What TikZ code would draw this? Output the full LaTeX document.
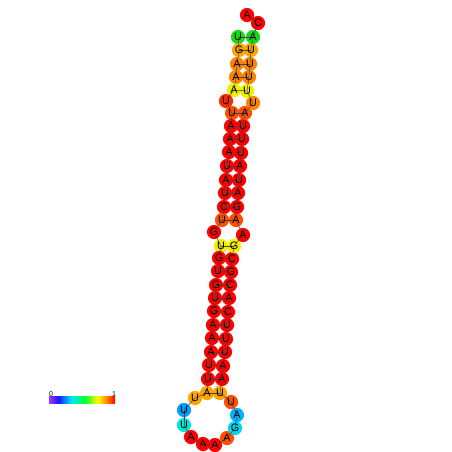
\documentclass[tikz,border=0pt]{standalone}
\usepackage{fontspec}
\setmainfont{Liberation Sans}
\definecolor{nRed}{RGB}{255,0,0}
\definecolor{nRO}{RGB}{255,40,0}
\definecolor{nOR}{RGB}{255,80,0}
\definecolor{nOr}{RGB}{255,130,0}
\definecolor{nOY}{RGB}{255,165,0}
\definecolor{nYel}{RGB}{240,240,0}
\definecolor{nGrn}{RGB}{20,220,20}
\definecolor{nBlu}{RGB}{0,160,255}
\definecolor{nSky}{RGB}{0,180,255}
\definecolor{nCyn}{RGB}{0,230,215}
\definecolor{nCy2}{RGB}{0,215,240}
\definecolor{bbcol}{RGB}{70,70,70}
\pgfdeclarehorizontalshading{cbar}{100bp}{rgb(0bp)=(0.65,0.2,1); rgb(25bp)=(0.65,0.2,1); rgb(32bp)=(0.1,0.1,1); rgb(42bp)=(0,0.9,1); rgb(52bp)=(0,1,0.2); rgb(62bp)=(1,1,0); rgb(69bp)=(1,0.5,0); rgb(75bp)=(1,0,0); rgb(100bp)=(1,0,0)}
\begin{document}
\begin{tikzpicture}[x=1pt,y=-1pt]
\tikzset{
  ntc/.style={circle, minimum size=14.2pt, inner sep=0pt, draw=none},
  ntl/.style={inner sep=0pt, font=\fontsize{10.8}{10.8}\selectfont},
  bb/.style={draw=bbcol, line width=0.5pt},
  cbl/.style={inner sep=0pt, anchor=south, font=\fontsize{7}{7}\selectfont}
}
\useasboundingbox (0,0) rectangle (452,452);
\foreach \i/\x/\y/\c in {1/238/37/nGrn, 2/239/50/nOY, 3/237/64/nOr, 4/236/77/nOr, 5/234/90/nYel,
  6/226/101/nRO, 7/232/113/nOR, 8/231/126/nRed, 9/230/139/nRed, 10/229/152/nRed,
  11/227/166/nRed, 12/226/180/nRed, 13/225/193/nRed, 14/224/207/nRed, 15/222/220/nOR,
  16/214/232/nRed, 17/221/246/nYel, 18/219/258/nRed, 19/218/271/nRed, 20/216/285/nRed,
  21/215/298/nRed, 22/214/311/nRed, 23/213/325/nRed, 24/212/338/nRed, 25/211/352/nRed,
  26/209/365/nRed, 27/208/379/nRed, 28/207/393/nOY, 29/195/398/nOY, 30/184/410/nBlu,
  31/184/425/nCyn, 32/191/437/nRed, 33/203/444/nRed, 34/215/445/nRed, 35/227/438/nOR,
  36/235/428/nCy2, 37/237/415/nSky, 38/231/402/nOR, 39/220/393/nOY, 40/222/379/nRed,
  41/223/366/nRed, 42/225/352/nRed, 43/226/339/nRed, 44/227/325/nRed, 45/228/312/nRed,
  46/229/298/nRed, 47/230/285/nRed, 48/231/272/nRed, 49/232/259/nRed, 50/234/246/nYel,
  51/243/235/nRed, 52/236/220/nOR, 53/237/207/nRed, 54/238/193/nRed, 55/239/180/nRed,
  56/240/166/nRed, 57/241/153/nRed, 58/242/139/nRed, 59/243/126/nRed, 60/245/113/nOR,
  61/253/103/nOr, 62/247/91/nYel, 63/249/77/nOr, 64/250/64/nOr, 65/251/50/nOY,
  66/253/37/nGrn, 67/258/23/nRed, 68/247/15/nRed}
  {\node[ntc, fill=\c] (n\i) at (\x,\y) {};}
\foreach \i [evaluate=\i as \j using int(\i+1)] in {1,...,67}
  {\draw[bb] (n\i.center) -- (n\j.center);}
\foreach \a/\b in {1/66, 2/65, 3/64, 4/63, 5/62, 7/60, 8/59, 9/58, 10/57, 11/56, 12/55, 13/54,
  14/53, 15/52, 17/50, 18/49, 19/48, 20/47, 21/46, 22/45, 23/44, 24/43, 25/42, 26/41, 27/40, 28/39}
  {\draw[bb] (n\a.center) -- (n\b.center);}
\foreach \i/\t in {1/U, 2/G, 3/A, 4/A, 5/A, 6/U, 7/U, 8/A, 9/A, 10/A, 11/U, 12/A, 13/U, 14/C, 15/U,
  16/G, 17/U, 18/G, 19/U, 20/G, 21/U, 22/G, 23/A, 24/A, 25/A, 26/U, 27/U, 28/A, 29/U, 30/U,
  31/U, 32/A, 33/A, 34/A, 35/A, 36/G, 37/A, 38/U, 39/U, 40/A, 41/A, 42/U, 43/U, 44/U, 45/C,
  46/A, 47/C, 48/G, 49/C, 50/G, 51/A, 52/A, 53/G, 54/A, 55/U, 56/A, 57/U, 58/U, 59/U, 60/A,
  61/U, 62/U, 63/U, 64/U, 65/U, 66/A, 67/C, 68/A}
  {\node[ntl] (t\i) at (n\i) {\t};}
\shade[shading=cbar] (49,396) rectangle (115,403);
\node[cbl] (lab0) at (51,396.5) {0};
\node[cbl] (lab1) at (114,396.5) {1};
\end{tikzpicture}
\end{document}
